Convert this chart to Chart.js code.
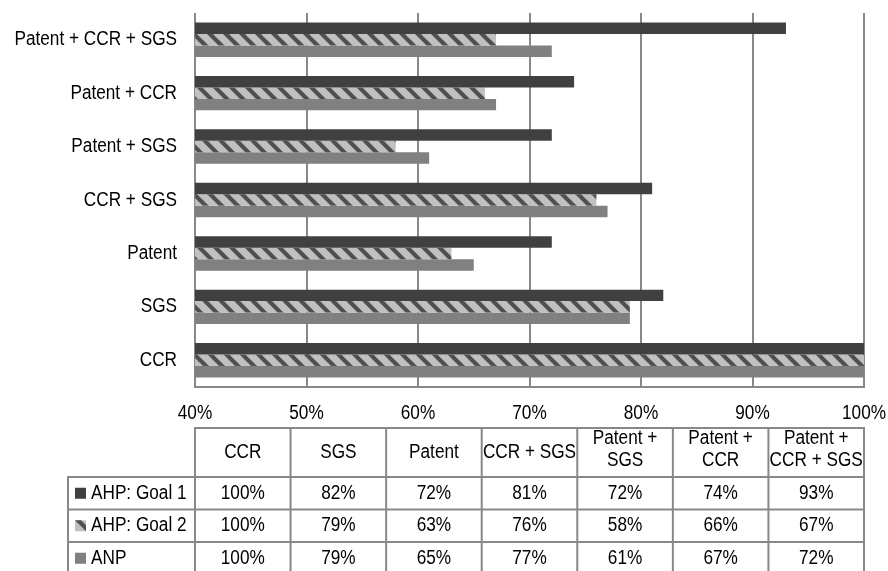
<!DOCTYPE html>
<html>
<head>
<meta charset="utf-8">
<script src="https://cdn.jsdelivr.net/npm/chart.js@4/dist/chart.umd.min.js"></script>
<style>
  html, body { margin: 0; padding: 0; background: #ffffff; }
  #wrap { width: 888px; height: 571px; }
</style>
</head>
<body>
<div id="wrap"><canvas id="chart" width="888" height="571"></canvas></div>
<script>
// Scenario categories (table order; the chart lists them bottom-up)
const categories = ['CCR', 'SGS', 'Patent', 'CCR + SGS', 'Patent + SGS', 'Patent + CCR', 'Patent + CCR + SGS'];

// Series values in percent
const seriesNames = ['AHP: Goal 1', 'AHP: Goal 2', 'ANP'];
const ahpGoal1 = [100, 82, 72, 81, 72, 74, 93];
const ahpGoal2 = [100, 79, 63, 76, 58, 66, 67];
const anp = [100, 79, 65, 77, 61, 67, 72];

// Value axis ticks in percent
const xTicks = [40, 50, 60, 70, 80, 90, 100];

const FONT = "'Liberation Sans', Arial, Helvetica, sans-serif";
const FONT_SIZE = 20;
const NARROW = 0.86;          // horizontal squeeze for a narrow sans look
const GRID = '#888888';
const DARK = '#404040';
const MID = '#808080';
const HATCH_BG = '#c0c0c0';
const HATCH_FG = '#505050';

// Diagonal "\" stripe pattern for the second series
function makeHatch(size) {
  const c = document.createElement('canvas');
  c.width = size; c.height = size;
  const g = c.getContext('2d');
  g.fillStyle = HATCH_BG;
  g.fillRect(0, 0, size, size);
  g.strokeStyle = HATCH_FG;
  g.lineWidth = size * 0.26;
  g.lineCap = 'square';
  for (const off of [-size, 0, size]) {
    g.beginPath();
    g.moveTo(off - 2, -2);
    g.lineTo(off + size + 2, size + 2);
    g.stroke();
  }
  return c;
}
const hatchCanvas = makeHatch(16);
const ctx0 = document.getElementById('chart').getContext('2d');
const hatch = ctx0.createPattern(hatchCanvas, 'repeat');

const seriesFills = [DARK, hatch, MID];

// Narrow text helper
function narrowText(ctx, text, x, y, align) {
  ctx.save();
  ctx.font = FONT_SIZE + 'px ' + FONT;
  ctx.fillStyle = '#000000';
  ctx.textBaseline = 'middle';
  ctx.textAlign = align;
  ctx.translate(x, y);
  ctx.scale(NARROW, 1);
  ctx.fillText(text, 0, 0);
  ctx.restore();
}
function narrowWidth(ctx, text) {
  ctx.save();
  ctx.font = FONT_SIZE + 'px ' + FONT;
  const w = ctx.measureText(text).width * NARROW;
  ctx.restore();
  return w;
}

// Legend key swatch for a series row
function drawKey(ctx, r, x, y, s) {
  if (r === 1) {
    ctx.fillStyle = HATCH_BG;
    ctx.fillRect(x, y, s, s);
    ctx.fillStyle = HATCH_FG;
    ctx.beginPath();
    ctx.moveTo(x, y);
    ctx.lineTo(x + s * 0.55, y);
    ctx.lineTo(x + s, y + s * 0.45);
    ctx.lineTo(x + s, y + s);
    ctx.closePath();
    ctx.fill();
  } else {
    ctx.fillStyle = seriesFills[r];
    ctx.fillRect(x, y, s, s);
  }
}

// Axis labels placed from the chart's own scales
const axisLabels = {
  id: 'axisLabels',
  afterDraw(chart) {
    const ctx = chart.ctx;
    const xs = chart.scales.x, ys = chart.scales.y;
    const area = chart.chartArea;
    ys.ticks.forEach((t, i) => {
      narrowText(ctx, ys.getLabelForValue(t.value), area.left - 18, ys.getPixelForTick(i), 'right');
    });
    xs.ticks.forEach(t => {
      narrowText(ctx, t.value + '%', xs.getPixelForValue(t.value), area.bottom + 26, 'center');
    });
  }
};

// Data table drawn under the plot, columns aligned to the plot width
const dataTable = {
  id: 'dataTable',
  afterDraw(chart) {
    const ctx = chart.ctx;
    const area = chart.chartArea;
    const top = chart.scales.x.bottom;
    const headerH = 49;
    const rowH = 32.5;
    const legendLeft = 68;
    const n = categories.length;
    const colW = (area.right - area.left) / n;
    const values = [ahpGoal1, ahpGoal2, anp];
    const bottom = top + headerH + rowH * values.length + 4;

    ctx.save();
    ctx.strokeStyle = GRID;
    ctx.lineWidth = 2;
    ctx.beginPath();
    ctx.moveTo(area.left, top); ctx.lineTo(area.right + 1, top);
    for (let r = 0; r <= values.length; r++) {
      const y = top + headerH + rowH * r;
      ctx.moveTo(legendLeft - 1, y); ctx.lineTo(area.right + 1, y);
    }
    for (let i = 0; i <= n; i++) {
      const x = area.left + colW * i;
      ctx.moveTo(x, top - 1); ctx.lineTo(x, bottom);
    }
    ctx.moveTo(legendLeft, top + headerH - 1); ctx.lineTo(legendLeft, bottom);
    ctx.stroke();
    ctx.restore();

    // header cells, word-wrapped to the column width
    categories.forEach((cat, i) => {
      const words = cat.split(' ');
      const lines = [];
      let line = '';
      words.forEach(w => {
        const test = line ? line + ' ' + w : w;
        if (narrowWidth(ctx, test) > colW - 1 && line) {
          lines.push(line);
          line = w;
        } else {
          line = test;
        }
      });
      lines.push(line);
      const cx = area.left + colW * (i + 0.5);
      const cy = lines.length > 1 ? top + 21.5 : top + 24;
      const lh = 22;
      lines.forEach((l, k) => {
        narrowText(ctx, l, cx, cy + (k - (lines.length - 1) / 2) * lh, 'center');
      });
    });

    // value rows with legend keys
    values.forEach((vals, r) => {
      const cy = top + headerH + rowH * (r + 0.5);
      vals.forEach((v, i) => {
        narrowText(ctx, v + '%', area.left + colW * (i + 0.5), cy, 'center');
      });
      drawKey(ctx, r, 75, cy - 5.5, 11);
      narrowText(ctx, seriesNames[r], 91, cy, 'left');
    });
  }
};

Chart.defaults.font.family = FONT;
Chart.defaults.font.size = FONT_SIZE;
Chart.defaults.color = '#000000';

new Chart(ctx0, {
  type: 'bar',
  data: {
    labels: categories,
    datasets: [
      { label: seriesNames[0], data: ahpGoal1, backgroundColor: seriesFills[0] },
      { label: seriesNames[1], data: ahpGoal2, backgroundColor: seriesFills[1] },
      { label: seriesNames[2], data: anp, backgroundColor: seriesFills[2] }
    ]
  },
  options: {
    indexAxis: 'y',
    responsive: false,
    animation: false,
    layout: { padding: { left: 0, right: 24, top: 13, bottom: 143 } },
    datasets: {
      bar: { categoryPercentage: 0.645, barPercentage: 1.0, borderWidth: 0 }
    },
    plugins: {
      legend: { display: false },
      tooltip: { enabled: false }
    },
    scales: {
      x: {
        min: xTicks[0],
        max: xTicks[xTicks.length - 1],
        afterBuildTicks(scale) { scale.ticks = xTicks.map(v => ({ value: v })); },
        afterFit(scale) {
          scale.height = 41;
          scale.paddingLeft = 0;
          scale.paddingRight = 0;
        },
        ticks: { display: false },
        grid: { color: GRID, lineWidth: 2, drawTicks: false },
        border: { display: true, color: GRID, width: 2 }
      },
      y: {
        reverse: true,
        afterFit(scale) {
          scale.width = 195;
          scale.paddingTop = 0;
          scale.paddingBottom = 0;
        },
        ticks: { display: false },
        grid: { display: false, drawTicks: false },
        border: { display: false }
      }
    }
  },
  plugins: [axisLabels, dataTable]
});
</script>
</body>
</html>
